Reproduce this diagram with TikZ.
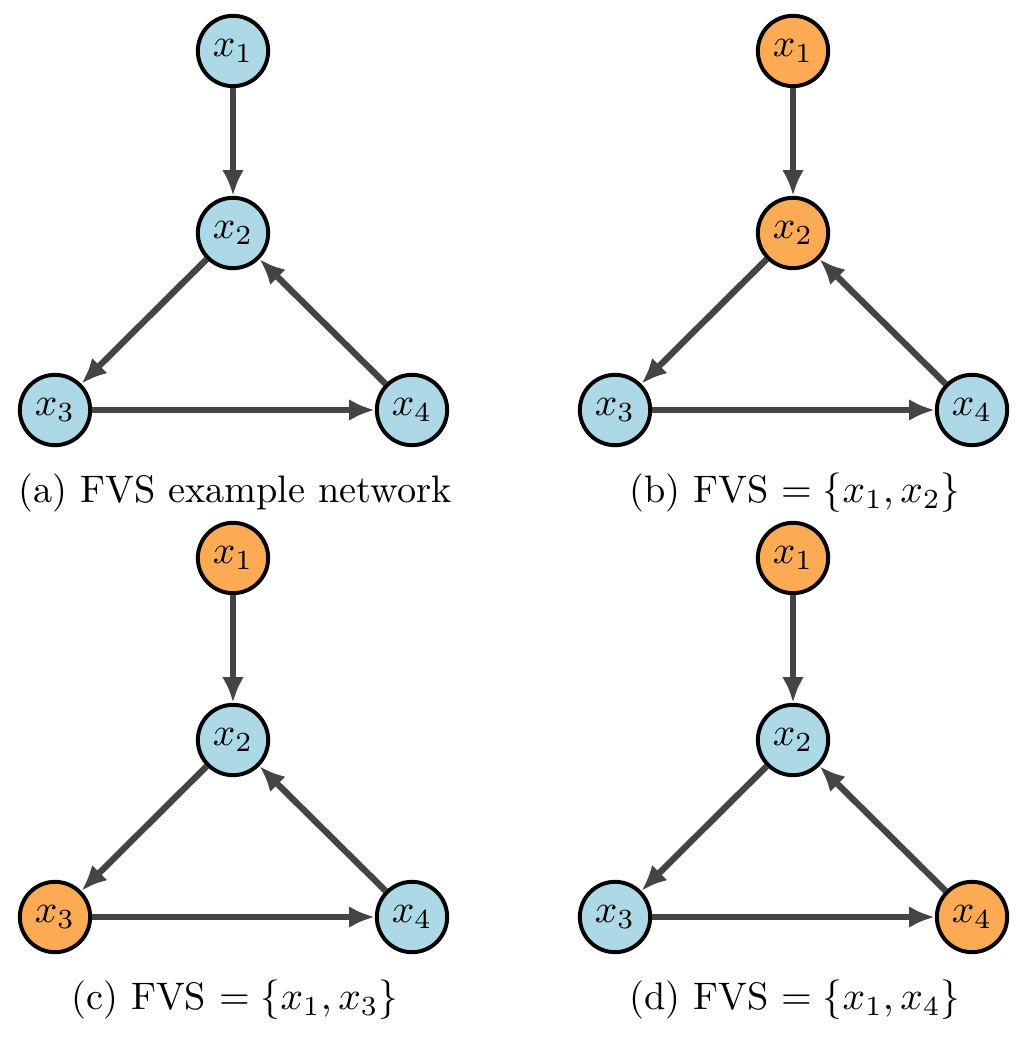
\documentclass[tikz,border=0pt]{standalone}
\usetikzlibrary{arrows.meta}
\definecolor{nblue}{HTML}{ADD8E6}
\definecolor{norange}{HTML}{FDAA55}
\definecolor{edgegray}{HTML}{444444}
\tikzset{
  vert/.style={circle, draw=black, line width=1pt, minimum size=17.8pt, inner sep=0pt, font=\normalsize},
  bvert/.style={vert, fill=nblue},
  overt/.style={vert, fill=norange},
  edgearrow/.style={draw=edgegray, line width=1.6pt, -{Latex[length=6.5pt,width=5.5pt]}},
  captext/.style={font=\fontsize{9.7pt}{12pt}\selectfont, inner sep=0pt}
}
\newcommand\fvspanel[8]{%
  \begin{scope}[shift={(#2,#3)}]
    \node[#4] (#1a) at (233,51) {$x_1$};
    \node[#5] (#1b) at (233,233) {$x_2$};
    \node[#6] (#1c) at (55,410) {$x_3$};
    \node[#7] (#1d) at (412,410) {$x_4$};
    \draw[edgearrow] (#1a) -- (#1b);
    \draw[edgearrow] (#1b) -- (#1c);
    \draw[edgearrow] (#1c) -- (#1d);
    \draw[edgearrow] (#1d) -- (#1b);
    \node[captext] (#1cap) at (235,493) {#8};
  \end{scope}}
\begin{document}
\begin{tikzpicture}[x=0.253pt,y=-0.253pt]
  \useasboundingbox (0,0) rectangle (1032,1050);
  \fvspanel{pa}{0}{0}{bvert}{bvert}{bvert}{bvert}{(a) FVS example network}
  \fvspanel{pb}{560}{0}{overt}{overt}{bvert}{bvert}{(b) FVS $=\{x_1,x_2\}$}
  \fvspanel{pc}{0}{507}{overt}{bvert}{overt}{bvert}{(c) FVS $=\{x_1,x_3\}$}
  \fvspanel{pd}{560}{507}{overt}{bvert}{bvert}{overt}{(d) FVS $=\{x_1,x_4\}$}
\end{tikzpicture}
\end{document}
